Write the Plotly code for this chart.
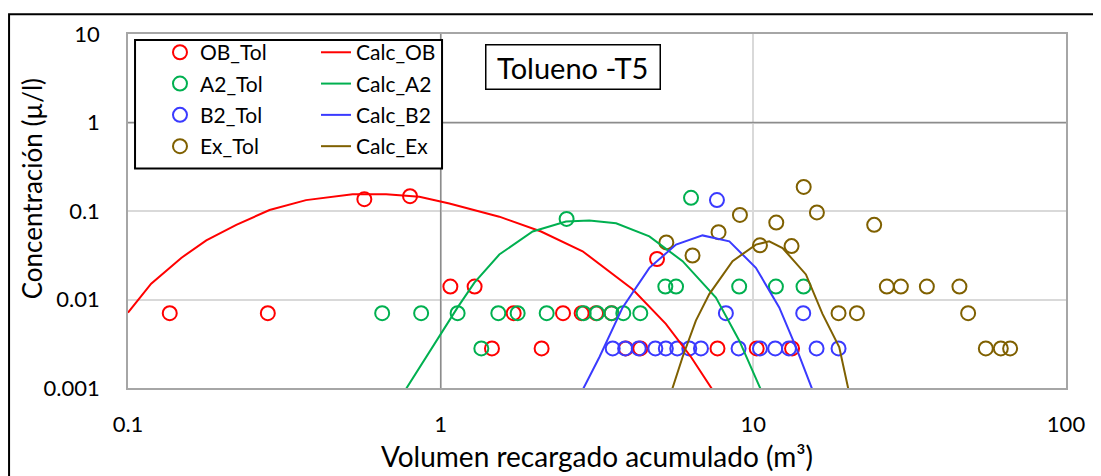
import plotly.graph_objects as go

# --- measured samples (m3 vs µ/l) ---
ob_x = [0.136, 0.280, 0.570, 0.798, 1.074, 1.284, 1.459, 1.712, 2.103, 2.462,
        2.824, 3.14, 3.52, 3.91, 4.35, 4.92, 7.68, 10.25, 13.3]
ob_y = [0.007, 0.007, 0.136, 0.147, 0.014, 0.014, 0.0028, 0.007, 0.0028, 0.007,
        0.007, 0.007, 0.007, 0.0028, 0.0028, 0.0287, 0.0028, 0.0028, 0.0028]

a2_x = [0.650, 0.866, 1.133, 1.349, 1.529, 1.763, 2.183, 2.528, 2.866, 3.162,
        3.52, 3.838, 4.35, 5.23, 5.66, 6.32, 9.01, 11.81, 14.47]
a2_y = [0.007, 0.007, 0.007, 0.0028, 0.007, 0.007, 0.007, 0.0814, 0.007, 0.007,
        0.007, 0.007, 0.007, 0.014, 0.014, 0.141, 0.014, 0.014, 0.014]

b2_x = [3.55, 3.89, 4.30, 4.86, 5.25, 5.71, 6.24, 6.80, 7.65, 8.17,
        8.97, 10.5, 11.75, 13.0, 14.44, 15.93, 18.73]
b2_y = [0.0028, 0.0028, 0.0028, 0.0028, 0.0028, 0.0028, 0.0028, 0.0028, 0.133, 0.007,
        0.0028, 0.0028, 0.0028, 0.0028, 0.007, 0.0028, 0.0028]

ex_x = [5.27, 6.39, 7.74, 9.06, 10.5, 11.84, 13.25, 14.49, 15.97, 18.73,
        21.44, 24.35, 26.73, 29.64, 35.89, 45.62, 48.64, 55.41, 61.88, 66.27]
ex_y = [0.0442, 0.0314, 0.0576, 0.0902, 0.0409, 0.074, 0.0401, 0.187, 0.0964, 0.007,
        0.007, 0.0697, 0.014, 0.014, 0.014, 0.014, 0.007, 0.0028, 0.0028, 0.0028]

# --- calculated curves ---
calc_ob_x = [0.1, 0.1186, 0.148, 0.178, 0.222, 0.2836, 0.371, 0.523, 0.669, 0.855,
             1.066, 1.540, 2.094, 2.844, 4.11, 5.25, 6.32, 7.41]
calc_ob_y = [0.0071, 0.0151, 0.0295, 0.0466, 0.0697, 0.1026, 0.1327, 0.1549, 0.1549, 0.1445,
             0.1216, 0.0863, 0.0587, 0.0351, 0.01307, 0.0053, 0.00224, 0.00095]

calc_a2_x = [0.771, 1.133, 1.282, 1.540, 1.969, 2.517, 2.988, 3.64, 4.65, 5.94,
             7.59, 9.01, 10.58]
calc_a2_y = [0.00095, 0.00814, 0.0155, 0.0322, 0.0587, 0.0759, 0.0779, 0.0727, 0.0516, 0.0271,
             0.01053, 0.00345, 0.00095]

calc_b2_x = [2.844, 3.22, 3.82, 4.65, 5.66, 6.88, 8.38, 10.19, 12.1, 13.69, 15.46]
calc_b2_y = [0.00095, 0.00224, 0.00814, 0.0228, 0.0417, 0.053, 0.0454, 0.0228, 0.00814, 0.0029,
             0.00095]

calc_ex_x = [5.49, 5.94, 6.55, 7.23, 8.58, 10.19, 11.24, 12.4, 14.73, 16.64, 18.82, 20.16]
calc_ex_y = [0.00095, 0.00224, 0.00578, 0.0115, 0.0271, 0.0417, 0.0454, 0.0382, 0.0192, 0.00687,
             0.0029, 0.00095]

x_ticks = [0.1, 1, 10, 100]
x_labels = ['0.1', '1', '10', '100']
y_ticks = [0.001, 0.01, 0.1, 1, 10]
y_labels = ['0.001', '0.01', '0.1', '1', '10']

FONT = 'Lato'
series = [
    ('OB_Tol', ob_x, ob_y, 'Calc_OB', calc_ob_x, calc_ob_y, '#FF0000'),
    ('A2_Tol', a2_x, a2_y, 'Calc_A2', calc_a2_x, calc_a2_y, '#00B050'),
    ('B2_Tol', b2_x, b2_y, 'Calc_B2', calc_b2_x, calc_b2_y, '#3A3AFF'),
    ('Ex_Tol', ex_x, ex_y, 'Calc_Ex', calc_ex_x, calc_ex_y, '#7F6000'),
]

fig = go.Figure()
# markers -> legend 1, lines -> legend 2 (two columns)
for name, mx, my, cname, cx, cy, col in series:
    fig.add_trace(go.Scatter(x=mx, y=my, mode='markers', name=name, legend='legend',
                             legendgroup=name,
                             marker=dict(symbol='circle-open', size=14, color=col,
                                         line=dict(width=2, color=col))))
for name, mx, my, cname, cx, cy, col in series:
    fig.add_trace(go.Scatter(x=cx, y=cy, mode='lines', name=cname, legend='legend2',
                             legendgroup=cname,
                             line=dict(color=col, width=2)))

shapes = []
# darker axis lines crossing at x=1, y=1
shapes.append(dict(type='line', xref='x', yref='y', x0=1, x1=1, y0=0.001, y1=10,
                   line=dict(color='#8c8c8c', width=1.5), layer='between'))
shapes.append(dict(type='line', xref='x', yref='y', x0=0.1, x1=100, y0=1, y1=1,
                   line=dict(color='#8c8c8c', width=1.5), layer='between'))
for yv in y_ticks:
    shapes.append(dict(type='line', xref='x', yref='y', xsizemode='pixel',
                       xanchor=1, x0=-8, x1=0, y0=yv, y1=yv,
                       line=dict(color='#8c8c8c', width=1.5), layer='between'))
# legend frame
shapes.append(dict(type='rect', xref='paper', yref='paper', x0=0.0075, x1=0.3348, y0=0.6201, y1=0.9832,
                   fillcolor='white', line=dict(color='black', width=2), layer='above'))
# chart frame (left/top edges visible)
shapes.append(dict(type='rect', xref='paper', yref='paper', x0=-0.1268, x1=1.1, y0=-0.4, y1=1.0559,
                   line=dict(color='black', width=2), layer='above'))

leg_font = dict(size=21, family=FONT)
fig.update_layout(
    width=1101, height=476,
    # page has an 8px body margin, so the plot box is pulled up/left by 8px
    margin=dict(l=120, r=43, t=22, b=96),
    paper_bgcolor='white', plot_bgcolor='white',
    font=dict(family=FONT, color='black'),
    showlegend=True,
    legend=dict(x=0.0341, y=1.0053, xanchor='left', yanchor='top', bgcolor='rgba(0,0,0,0)',
                borderwidth=0, font=leg_font, tracegroupgap=1),
    legend2=dict(x=0.2004, y=1.0053, xanchor='left', yanchor='top', bgcolor='rgba(0,0,0,0)',
                 borderwidth=0, font=leg_font, tracegroupgap=1),
    shapes=shapes,
    annotations=[
        dict(text='\u00a0Tolueno -T5\u00a0', xref='paper', yref='paper', x=0.4739, y=0.9074,
             xanchor='center', yanchor='middle', showarrow=False, font=dict(size=29, family=FONT),
             bordercolor='black', borderwidth=1.5, borderpad=4, bgcolor='white'),
        dict(text='Concentración (µ/l)', xref='paper', yref='paper', x=-0.1023, y=0.5615,
             xanchor='center', yanchor='middle', showarrow=False, textangle=-90,
             font=dict(size=26, family=FONT)),
    ],
)
fig.update_xaxes(type='log', range=[-1, 2], tickvals=x_ticks, ticktext=x_labels,
                 showgrid=True, gridcolor='#d9d9d9', gridwidth=1.5,
                 showline=True, mirror=True, linecolor='#a6a6a6', linewidth=1.5,
                 ticks='', ticklabelstandoff=16, tickfont=dict(size=22, family=FONT),
                 title=dict(text='Volumen recargado acumulado (m³)', font=dict(size=28, family=FONT), standoff=11))
fig.update_yaxes(type='log', range=[-3, 1], tickvals=y_ticks, ticktext=y_labels,
                 showgrid=True, gridcolor='#d9d9d9', gridwidth=1.5,
                 showline=True, mirror=True, linecolor='#a6a6a6', linewidth=1.5,
                 ticks='', ticklabelstandoff=22, tickfont=dict(size=22, family=FONT))

fig.write_html("out.html")
